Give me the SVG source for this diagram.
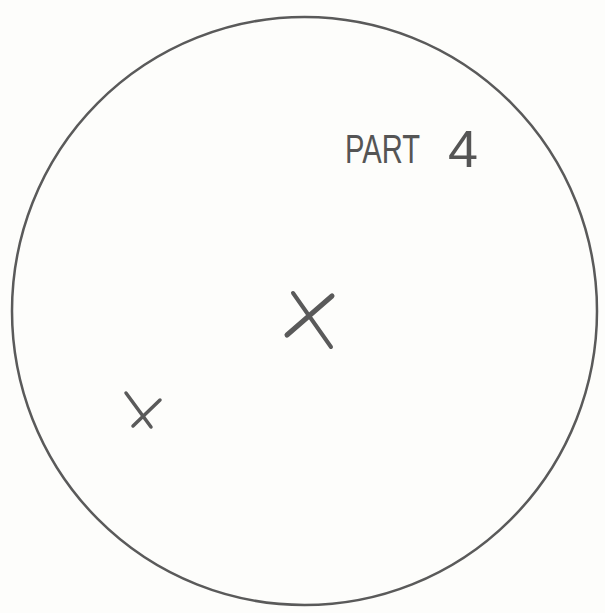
<svg xmlns="http://www.w3.org/2000/svg" width="605" height="613" viewBox="0 0 605 613">
<style>
.pen{fill:none;stroke:#5a5a5a;stroke-linecap:round}
.lbl{font-family:"Liberation Sans",Arial,sans-serif;fill:#555;}
</style>
<rect width="605" height="613" fill="#fdfdfb"/>
<g id="circle">
<ellipse class="pen" cx="304.5" cy="311" rx="292.5" ry="294" stroke-width="2.5"/>
</g>
<g id="label">
<text class="lbl" x="345" y="163" font-size="40" textLength="75" lengthAdjust="spacingAndGlyphs">PART</text>
<text class="lbl" x="448" y="167" font-size="52" textLength="30" lengthAdjust="spacingAndGlyphs">4</text>
</g>
<g id="x-large">
<line class="pen" x1="293" y1="293" x2="331" y2="347" stroke-width="4"/>
<line class="pen" x1="287" y1="335" x2="332" y2="296" stroke-width="5"/>
</g>
<g id="x-small">
<line class="pen" x1="126" y1="393" x2="151" y2="427" stroke-width="3.5"/>
<line class="pen" x1="133" y1="426" x2="160" y2="400" stroke-width="3.5"/>
</g>
</svg>
